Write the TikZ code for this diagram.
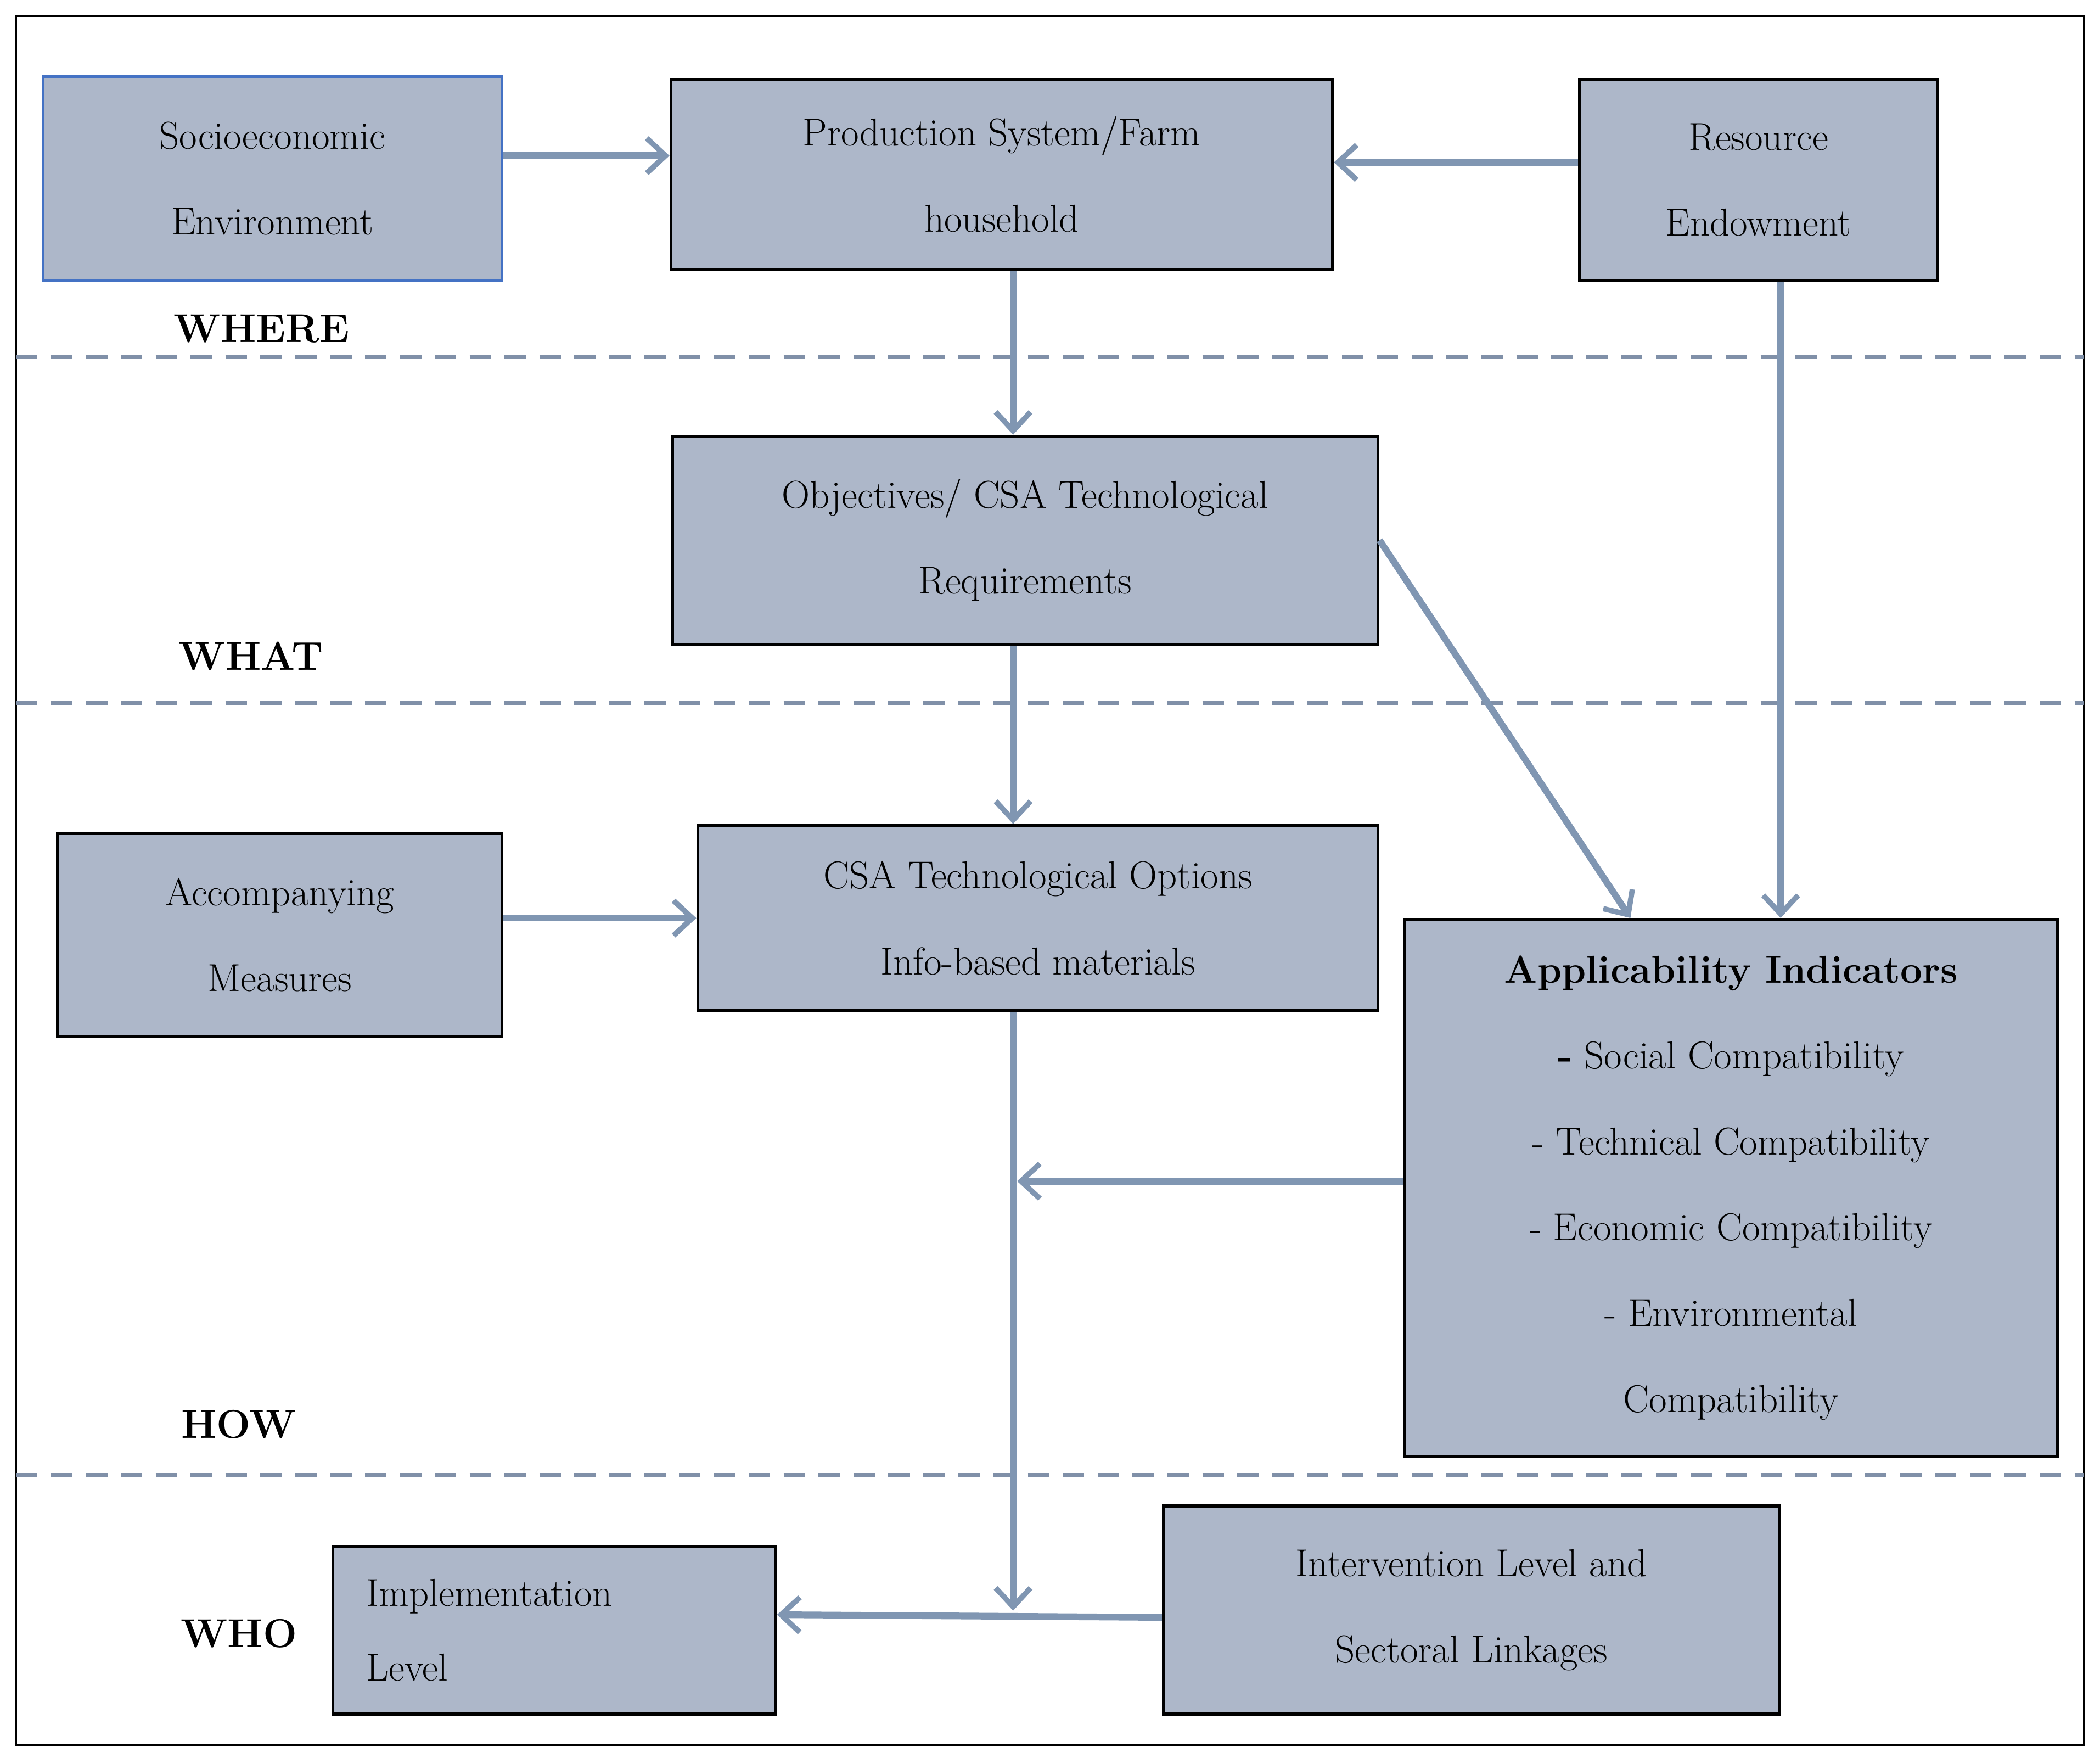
\documentclass[tikz,border=0pt]{standalone}
\usetikzlibrary{arrows.meta}
\definecolor{boxfill}{HTML}{ADB7C9}
\definecolor{arr}{HTML}{8096B2}
\definecolor{dash}{HTML}{8090A8}
\begin{document}
\begin{tikzpicture}[x=1pt,y=-1pt,
  box/.style={draw=black,line width=2.2pt,fill=boxfill,align=center,font=\fontsize{29}{64}\selectfont,inner sep=0pt},
  lab/.style={font=\fontsize{30}{36}\selectfont\bfseries},
  con/.style={draw=arr,line width=5pt,-{Straight Barb[length=14pt,width=26pt,line width=4pt]}},
  sep/.style={draw=dash,line width=3pt,dash pattern=on 16pt off 10pt}]
\useasboundingbox (0,0) rectangle (1565,1314);
\draw[line width=1.2pt] (12,12) rectangle (1553,1300);
\draw[sep] (12,266) -- (1553,266);
\draw[sep] (12,524) -- (1553,524);
\draw[sep] (12,1099) -- (1553,1099);
\node[box,draw={rgb,255:red,68;green,114;blue,196},minimum width=342,minimum height=152] (socio) at (203,133) {Socioeconomic\\Environment};
\node[box,minimum width=493,minimum height=142] (prod) at (746.5,130) {Production System/Farm\\household};
\node[box,minimum width=267,minimum height=150] (res) at (1310.5,134) {Resource\\Endowment};
\node[box,minimum width=526,minimum height=155] (obj) at (764,402.5) {Objectives/ CSA Technological\\Requirements};
\node[box,minimum width=331,minimum height=151] (acc) at (208.5,696.5) {Accompanying\\Measures};
\node[box,minimum width=507,minimum height=138] (csa) at (773.5,684) {CSA Technological Options\\Info-based materials};
\node[box,minimum width=486,minimum height=400] (app) at (1290,885) {\textbf{Applicability Indicators}\\\textbf{-} Social Compatibility\\- Technical Compatibility\\- Economic Compatibility\\- Environmental\\Compatibility};
\node[box,minimum width=330,minimum height=125,text width=280,align=left,font=\fontsize{29}{56}\selectfont] (impl) at (413,1214.5) {Implementation\\Level};
\node[box,minimum width=459,minimum height=155] (int) at (1096.5,1199.5) {Intervention Level and\\Sectoral Linkages};
\node[lab] (where) at (195,245) {WHERE};
\node[lab] (what) at (187,489) {WHAT};
\node[lab] (how) at (178,1061) {HOW};
\node[lab] (who) at (178,1217) {WHO};
\coordinate (j) at (755,1200);
\coordinate (k) at (758,880);
\draw[con] ([yshift=17]socio.east) -- ([yshift=14]prod.west);
\draw[con] ([yshift=13]res.west) -- ([yshift=9]prod.east);
\draw[con] ([xshift=8.5]prod.south) -- ([xshift=-9]obj.north);
\draw[con] ([xshift=16.5]res.south) -- ([xshift=37]app.north);
\draw[con] (obj.east) -- ([xshift=-75]app.north);
\draw[con] ([xshift=-9]obj.south) -- ([xshift=-18.5]csa.north);
\draw[con] ([yshift=12.5]acc.east) -- (csa.west);
\draw[con] ([xshift=-18.5]csa.south) -- (j);
\draw[con] ([yshift=5]app.west) -- (k);
\draw[con] ([yshift=-5.5]int.west) -- ([yshift=11.5]impl.east);
\end{tikzpicture}
\end{document}
